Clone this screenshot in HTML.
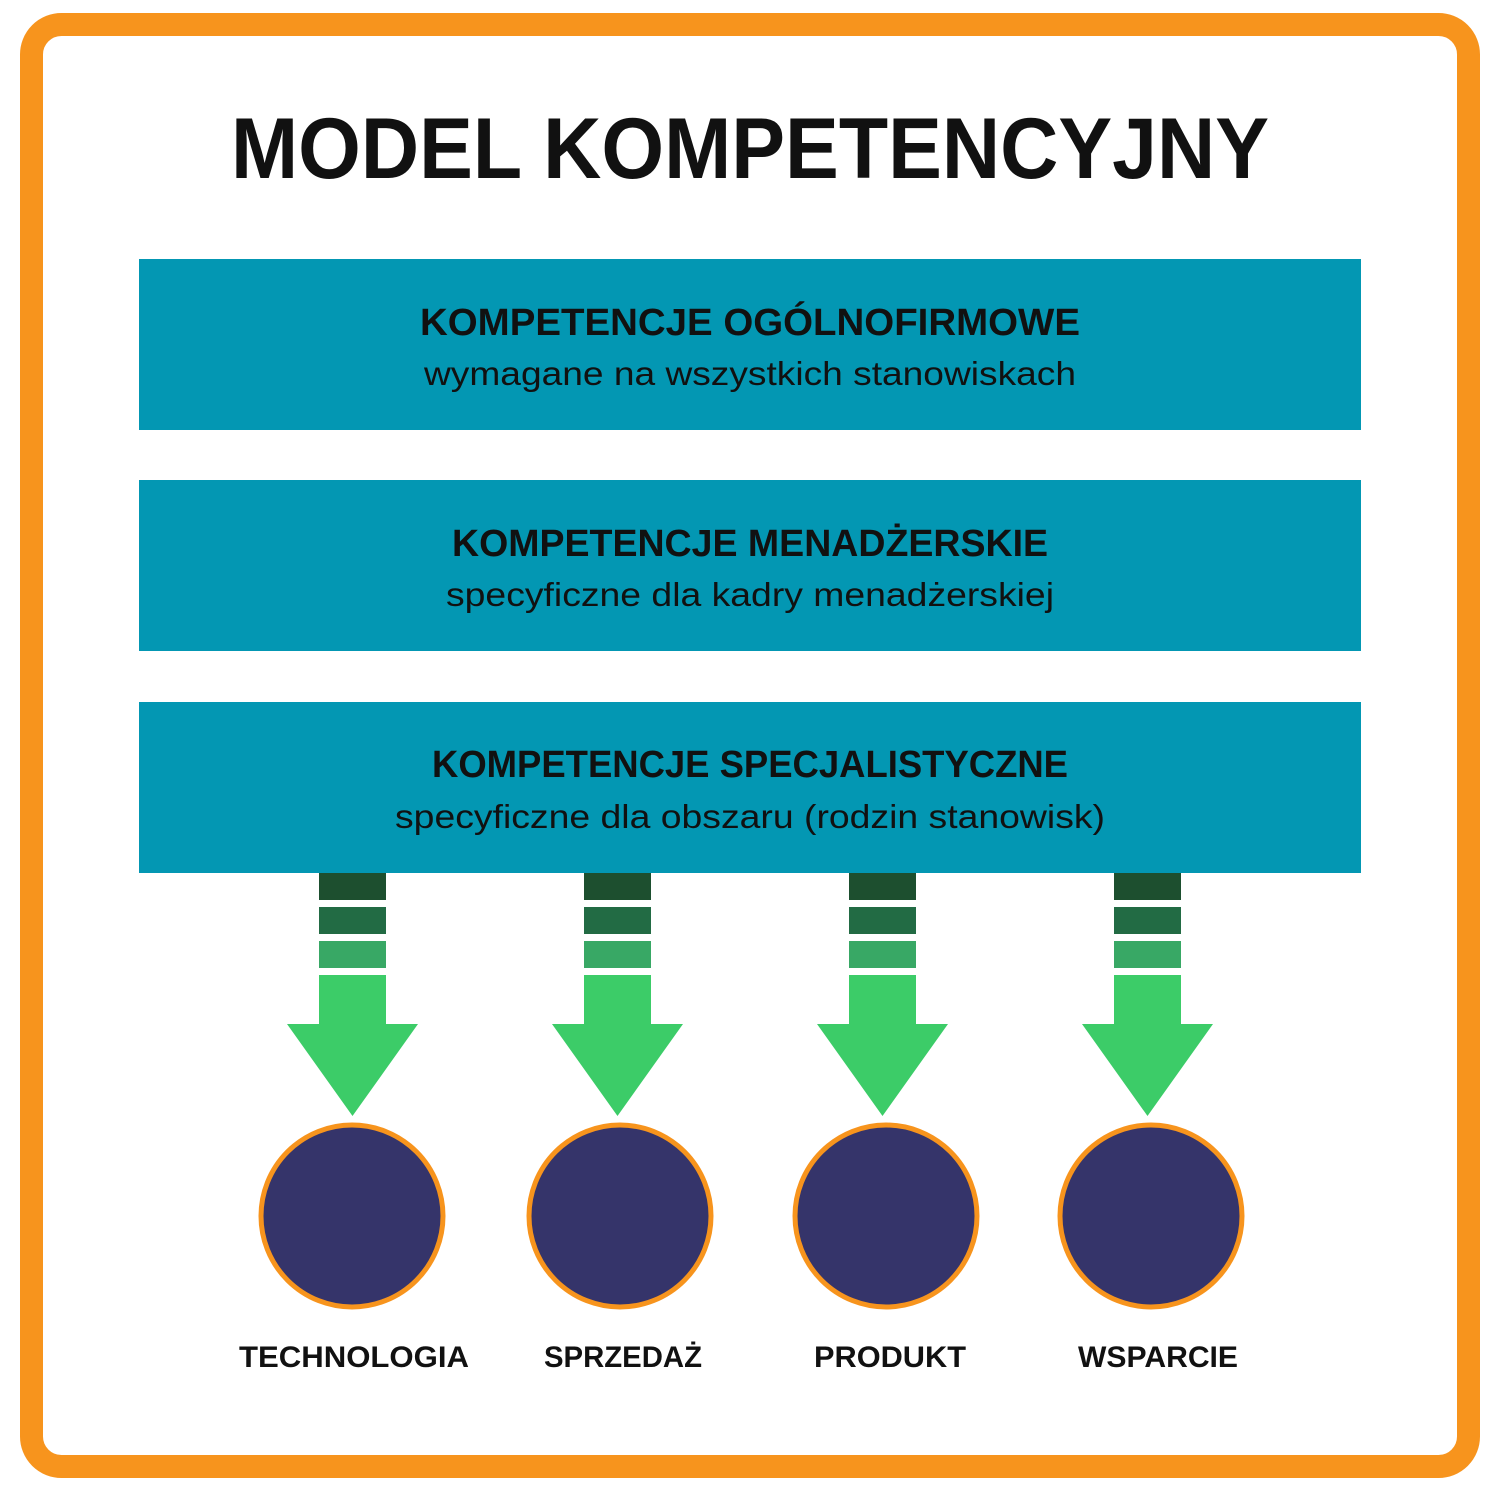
<!DOCTYPE html>
<html><head><meta charset="utf-8"><style>html,body{margin:0;padding:0;background:#fff}svg{display:block}</style></head>
<body>
<svg width="1500" height="1500" viewBox="0 0 1500 1500" xmlns="http://www.w3.org/2000/svg" font-family="'Liberation Sans', sans-serif">
<rect x="0" y="0" width="1500" height="1500" fill="#fff"/>
<rect x="31.5" y="24.5" width="1437" height="1442" rx="30" fill="#fff" stroke="#f7941d" stroke-width="23"/>
<text x="750" y="178" font-size="86" font-weight="bold" text-anchor="middle" textLength="1038" lengthAdjust="spacingAndGlyphs" fill="#111">MODEL KOMPETENCYJNY</text>
<g fill="#0397b3">
<rect x="139" y="259" width="1222" height="171"/>
<rect x="139" y="480" width="1222" height="171"/>
<rect x="139" y="702" width="1222" height="171"/>
</g>
<g fill="#111" text-anchor="middle">
<text x="750" y="335" font-size="38" font-weight="bold" textLength="660" lengthAdjust="spacingAndGlyphs">KOMPETENCJE OGÓLNOFIRMOWE</text>
<text x="750" y="385" font-size="33" textLength="652" lengthAdjust="spacingAndGlyphs">wymagane na wszystkich stanowiskach</text>
<text x="750" y="556" font-size="38" font-weight="bold" textLength="596" lengthAdjust="spacingAndGlyphs">KOMPETENCJE MENADŻERSKIE</text>
<text x="750" y="606" font-size="33" textLength="608" lengthAdjust="spacingAndGlyphs">specyficzne dla kadry menadżerskiej</text>
<text x="750" y="777" font-size="38" font-weight="bold" textLength="636" lengthAdjust="spacingAndGlyphs">KOMPETENCJE SPECJALISTYCZNE</text>
<text x="750" y="828" font-size="33" textLength="710" lengthAdjust="spacingAndGlyphs">specyficzne dla obszaru (rodzin stanowisk)</text>
</g>
<g id="a1" transform="translate(0,0)">
<rect x="319" y="873" width="67" height="27" fill="#1d4f2f"/>
<rect x="319" y="907" width="67" height="27" fill="#226b44"/>
<rect x="319" y="941" width="67" height="27" fill="#38a865"/>
<polygon points="319,975 386,975 386,1024 418,1024 352.5,1116 287,1024 319,1024" fill="#3ccc68"/>
</g>
<use href="#a1" x="265"/>
<use href="#a1" x="530"/>
<use href="#a1" x="795"/>
<g fill="#35346a" stroke="#f7941d" stroke-width="5">
<circle cx="352" cy="1216" r="91"/>
<circle cx="620" cy="1216" r="91"/>
<circle cx="886" cy="1216" r="91"/>
<circle cx="1151" cy="1216" r="91"/>
</g>
<g fill="#111" font-weight="bold" font-size="30" text-anchor="middle">
<text x="354" y="1367" textLength="230" lengthAdjust="spacingAndGlyphs">TECHNOLOGIA</text>
<text x="623" y="1367" textLength="158" lengthAdjust="spacingAndGlyphs">SPRZEDAŻ</text>
<text x="890" y="1367" textLength="152" lengthAdjust="spacingAndGlyphs">PRODUKT</text>
<text x="1158" y="1367" textLength="160" lengthAdjust="spacingAndGlyphs">WSPARCIE</text>
</g>
</svg>
</body></html>
